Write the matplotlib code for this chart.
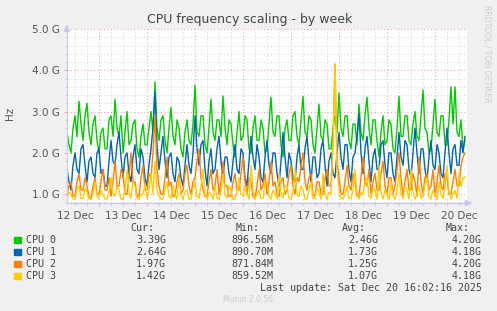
import matplotlib
matplotlib.use("Agg")
import matplotlib.pyplot as plt
import matplotlib.dates as mdates
from matplotlib.ticker import MultipleLocator, FuncFormatter
import pandas as pd

# --- data (GHz), one sample every hour ---
start = "2025-12-12 08:00"
step = "1h"

cpu0 = [2.5, 2.2, 2.0, 2.6, 2.9, 2.4, 3.25, 2.7, 2.3, 2.9, 3.2, 2.5, 2.2, 2.7, 2.9, 2.3, 2.0, 2.5, 2.6, 2.1,
        2.1, 2.8, 2.9, 2.4, 3.3, 2.6, 2.4, 2.9, 2.0, 2.5, 3.0, 2.2, 2.3, 2.7, 2.8, 2.1, 1.9, 2.4, 2.7, 2.2,
        2.2, 2.6, 3.0, 2.5, 3.72, 2.6, 2.3, 2.8, 2.9, 2.3, 2.0, 2.6, 3.1, 2.4, 2.2, 2.8, 2.6, 2.1, 1.9, 2.5,
        2.8, 2.3, 2.2, 2.7, 3.64, 2.5, 2.4, 2.9, 2.9, 2.2, 2.0, 2.6, 3.3, 2.5, 2.3, 2.8, 2.8, 2.4, 3.38, 2.6,
        2.2, 2.8, 2.7, 2.2, 1.9, 2.5, 3.0, 2.3, 2.4, 2.9, 2.8, 2.1, 2.0, 2.6, 2.9, 2.3, 2.3, 2.8, 2.6, 2.0,
        2.1, 2.7, 3.35, 2.5, 2.4, 2.9, 2.9, 2.2, 1.9, 2.6, 2.8, 2.3, 2.3, 2.9, 3.0, 2.4, 2.2, 2.8, 3.37, 2.5,
        2.4, 2.9, 2.8, 2.2, 2.0, 2.6, 3.18, 2.4, 2.3, 2.8, 2.7, 2.1, 2.1, 2.6, 2.9, 2.5, 3.45, 2.6, 2.4, 2.9,
        2.9, 2.3, 2.1, 2.7, 2.7, 2.2, 3.18, 2.5, 2.3, 2.9, 3.35, 2.6, 2.2, 2.8, 2.8, 2.3, 1.9, 2.5, 2.9, 2.2,
        2.3, 2.8, 2.7, 2.1, 2.0, 2.6, 3.37, 2.4, 2.4, 2.9, 2.9, 2.3, 2.2, 2.7, 3.0, 2.4, 2.3, 2.9, 3.52, 2.6,
        2.5, 2.0, 2.1, 2.7, 3.3, 2.5, 2.4, 2.9, 2.9, 2.2, 2.2, 2.8, 3.6, 2.7, 3.6, 2.5, 2.4, 2.8, 2.1, 2.3]

cpu1 = [1.6, 1.3, 1.1, 1.7, 2.0, 1.6, 1.5, 2.1, 2.2, 1.7, 1.3, 1.8, 1.9, 1.5, 1.4, 2.0, 2.1, 1.5, 1.6, 1.2,
        1.2, 1.8, 2.3, 1.8, 1.7, 2.2, 2.5, 1.9, 1.4, 1.9, 2.0, 1.5, 1.3, 1.9, 2.2, 1.6, 1.5, 2.1, 1.9, 1.4,
        1.2, 1.7, 2.1, 2.6, 3.48, 2.2, 1.6, 2.0, 2.4, 1.8, 1.4, 1.9, 2.0, 1.5, 1.3, 1.9, 1.8, 1.4, 1.2, 1.7,
        2.2, 1.7, 1.5, 2.0, 2.9, 2.1, 1.7, 2.2, 2.3, 1.6, 1.2, 1.8, 2.1, 1.5, 1.6, 2.1, 2.4, 1.8, 1.4, 1.9,
        1.9, 1.5, 1.3, 1.8, 2.2, 1.6, 1.5, 2.1, 2.0, 1.4, 1.2, 1.8, 2.4, 1.9, 1.6, 2.2, 1.9, 1.4, 1.3, 1.9,
        2.3, 1.7, 1.5, 2.0, 2.0, 1.5, 1.2, 1.8, 2.5, 1.9, 1.4, 2.0, 1.8, 1.4, 1.3, 1.9, 2.2, 1.6, 1.6, 2.1,
        2.4, 1.8, 1.3, 1.9, 1.9, 1.4, 1.5, 2.1, 2.3, 1.7, 1.2, 1.8, 2.0, 1.5, 1.4, 2.0, 2.5, 1.9, 1.6, 2.2,
        2.2, 1.6, 1.3, 1.9, 2.0, 2.4, 2.95, 2.0, 1.5, 2.1, 2.4, 1.8, 1.3, 1.9, 2.1, 1.6, 1.6, 2.2, 2.3, 1.7,
        1.4, 2.0, 2.0, 1.5, 1.3, 1.9, 2.5, 1.9, 1.7, 2.3, 2.2, 1.6, 1.4, 2.0, 2.6, 2.0, 1.5, 2.1, 2.1, 1.6,
        1.3, 1.9, 2.3, 1.7, 1.6, 2.2, 2.0, 1.5, 1.4, 2.0, 2.6, 2.0, 1.5, 2.1, 2.2, 1.7, 1.7, 2.3, 2.0, 2.4]

cpu2 = [1.0, 1.2, 1.3, 0.95, 0.95, 1.3, 1.5, 1.1, 1.1, 1.4, 1.2, 0.95, 0.9, 1.2, 1.4, 1.0, 1.0, 1.3, 1.6, 1.1,
        1.1, 1.4, 0.95, 1.3, 1.8, 1.2, 1.2, 1.6, 1.5, 1.0, 1.0, 1.4, 2.0, 1.3, 1.3, 0.95, 0.95, 1.4, 1.7, 1.1,
        1.1, 1.5, 1.4, 2.0, 2.9, 1.6, 1.2, 1.0, 1.0, 1.4, 1.9, 1.2, 1.3, 0.95, 0.95, 1.3, 1.5, 1.0, 1.1, 1.5,
        1.7, 1.2, 1.0, 1.3, 1.4, 1.8, 2.1, 1.4, 1.1, 0.95, 0.95, 1.3, 1.6, 1.1, 1.2, 1.6, 1.0, 1.3, 1.8, 1.2,
        1.2, 0.95, 0.95, 1.3, 1.5, 1.1, 1.1, 1.5, 1.9, 1.3, 1.0, 1.4, 1.3, 0.95, 0.9, 1.2, 1.6, 1.1, 1.2, 1.5,
        1.0, 1.3, 1.8, 1.2, 1.3, 1.0, 0.95, 1.3, 1.4, 1.0, 1.1, 1.5, 1.7, 1.2, 1.0, 1.4, 1.3, 1.7, 2.0, 1.3,
        1.1, 1.4, 1.5, 1.0, 0.95, 1.3, 1.3, 1.0, 1.0, 1.4, 1.6, 1.2, 1.2, 2.3, 4.15, 1.8, 1.4, 1.0, 1.0, 1.3,
        1.7, 1.2, 1.1, 1.5, 1.3, 0.95, 0.95, 1.4, 1.9, 1.3, 1.2, 1.6, 1.0, 1.3, 1.5, 1.1, 1.1, 1.5, 1.8, 1.2,
        1.0, 1.4, 1.4, 1.0, 1.2, 1.6, 2.0, 1.4, 0.95, 1.3, 1.6, 1.1, 1.1, 1.5, 1.3, 0.95, 1.9, 1.3, 1.0, 1.4,
        1.5, 1.1, 1.2, 1.6, 0.95, 1.3, 1.7, 1.2, 1.1, 1.5, 1.4, 1.0, 1.0, 1.3, 1.6, 1.2, 1.2, 1.7, 1.9, 2.0]

cpu3 = [0.9, 1.05, 1.0, 0.88, 0.88, 1.1, 1.2, 0.9, 0.9, 1.15, 1.05, 0.88, 0.88, 1.0, 1.3, 0.95, 0.9, 1.1, 1.0, 0.88,
        0.88, 1.05, 1.4, 1.0, 0.95, 1.2, 1.1, 0.88, 0.88, 1.1, 1.6, 1.05, 0.9, 1.3, 1.2, 0.9, 0.88, 1.0, 1.0, 1.25,
        0.9, 1.1, 1.5, 1.0, 1.8, 1.1, 0.95, 0.88, 0.88, 1.1, 1.3, 0.95, 0.9, 1.2, 1.0, 0.88, 1.4, 1.0, 0.88, 1.05,
        1.1, 0.88, 0.88, 1.15, 1.3, 0.95, 0.9, 1.2, 1.6, 1.0, 0.88, 1.05, 1.0, 0.88, 1.2, 0.9, 0.88, 1.1, 1.5, 1.0,
        0.9, 1.2, 1.1, 0.88, 0.88, 1.05, 1.4, 1.0, 0.95, 1.2, 1.0, 0.88, 1.7, 1.1, 0.88, 1.0, 1.1, 0.9, 0.9, 1.3,
        1.3, 0.95, 0.88, 1.1, 1.0, 0.88, 1.5, 1.05, 0.9, 1.2, 1.2, 0.9, 0.88, 1.05, 1.6, 1.0, 0.95, 1.2, 1.1, 0.88,
        0.88, 1.1, 1.3, 0.9, 0.9, 1.15, 1.05, 0.88, 1.5, 1.0, 0.88, 1.05, 1.0, 2.2, 4.15, 1.6, 1.1, 0.9, 0.88, 1.0,
        1.2, 0.9, 0.9, 1.1, 1.6, 1.0, 0.88, 1.05, 1.0, 1.3, 1.4, 0.95, 0.9, 1.15, 1.1, 0.88, 1.7, 1.05, 0.88, 1.1,
        1.0, 0.88, 1.3, 0.95, 0.88, 1.1, 1.5, 1.0, 0.9, 1.2, 1.1, 0.88, 1.6, 1.05, 0.88, 1.0, 1.2, 0.9, 0.95, 1.25,
        1.4, 0.95, 0.88, 1.1, 1.0, 0.88, 1.3, 1.0, 0.9, 1.2, 1.7, 1.05, 0.88, 1.0, 1.1, 0.9, 1.5, 1.2, 1.4, 1.42]

names = ["CPU 0", "CPU 1", "CPU 2", "CPU 3"]
colors = ["#00cc00", "#0066b3", "#ff8000", "#ffcc00"]
cur = ["3.39G", "2.64G", "1.97G", "1.42G"]
mins = ["896.56M", "890.70M", "871.84M", "859.52M"]
avgs = ["2.46G", "1.73G", "1.25G", "1.07G"]
maxs = ["4.20G", "4.18G", "4.20G", "4.18G"]
day_labels = ["12 Dec", "13 Dec", "14 Dec", "15 Dec", "16 Dec",
              "17 Dec", "18 Dec", "19 Dec", "20 Dec"]

times = pd.date_range(start, periods=len(cpu0), freq=step)

W, H = 497, 311
fig = plt.figure(figsize=(W / 100, H / 100), dpi=100, facecolor="#f0f0f0")
ax = fig.add_axes([67 / W, 1 - 203 / H, 400 / W, 174 / H], facecolor="white")

for series, c in zip([cpu0, cpu1, cpu2, cpu3], colors):
    ax.plot(times, series, color=c, lw=1.0)

ax.set_xlim(pd.Timestamp("2025-12-12 08:00"), pd.Timestamp("2025-12-20 16:00"))
ax.set_ylim(0.787, 5.0)

# grid: minor gray, major red, dotted
ax.xaxis.set_major_locator(mdates.DayLocator())
ax.xaxis.set_minor_locator(mdates.HourLocator(byhour=[6, 12, 18]))
ax.yaxis.set_major_locator(MultipleLocator(1.0))
ax.yaxis.set_minor_locator(MultipleLocator(0.2))
ax.grid(which="minor", color="#d8d8d8", ls=(0, (1, 2)), lw=0.8)
ax.grid(which="major", color="#e8a8a8", ls=(0, (1, 2)), lw=0.8)
ax.set_axisbelow(True)

ax.xaxis.set_major_formatter(FuncFormatter(lambda v, p: ""))
ax.yaxis.set_major_formatter(FuncFormatter(lambda v, p: "%.1f G" % v))
ax.tick_params(axis="y", which="major", labelsize=7.5, labelcolor="#555555",
               length=2, color="#e8a8a8", pad=3)
ax.tick_params(axis="y", which="minor", length=1.5, color="#cccccc")
ax.tick_params(axis="x", which="major", length=2, color="#e8a8a8", direction="out")
ax.tick_params(axis="x", which="minor", length=2, color="#cccccc", direction="out")

for s in ["top", "right"]:
    ax.spines[s].set_visible(False)
for s in ["left", "bottom"]:
    ax.spines[s].set_color("#c8c8ec")
    ax.spines[s].set_linewidth(0.8)

# axis arrows
ax.annotate("", xy=(1.02, 0), xytext=(0.99, 0), xycoords="axes fraction",
            arrowprops=dict(arrowstyle="-|>", color="#c8c8ec", lw=0.8), annotation_clip=False)
ax.annotate("", xy=(0, 1.04), xytext=(0, 1.0), xycoords="axes fraction",
            arrowprops=dict(arrowstyle="-|>", color="#c8c8ec", lw=0.8), annotation_clip=False)

# day labels centered at noon
for k, lab in enumerate(day_labels):
    t = pd.Timestamp("2025-12-12 12:00") + pd.Timedelta(days=k)
    ax.text(t, -0.045, lab, transform=ax.get_xaxis_transform(), ha="center", va="top",
            fontsize=7.5, color="#555555")

fig.text(250 / W, 1 - 19 / H, "CPU frequency scaling - by week", ha="center", va="center",
         fontsize=9, color="#444444")
fig.text(10 / W, 1 - 113 / H, "Hz", rotation=90, ha="center", va="center",
         fontsize=7.5, color="#555555")
fig.text(487 / W, 1 - 5 / H, "RRDTOOL / TOBI OETIKER", rotation=270, ha="center", va="top",
         fontsize=5.5, color="#cccccc")

# legend table
mono = dict(family="DejaVu Sans Mono", fontsize=7.2, color="#444444")
hy = 1 - 228 / H
fig.text(154 / W, hy, "Cur:", ha="right", va="center", **mono)
fig.text(260 / W, hy, "Min:", ha="right", va="center", **mono)
fig.text(366 / W, hy, "Avg:", ha="right", va="center", **mono)
fig.text(470 / W, hy, "Max:", ha="right", va="center", **mono)
for i, name in enumerate(names):
    y = 1 - (240 + 12 * i) / H
    fig.patches.append(plt.Rectangle((14 / W, y - 3.2 / H), 6.5 / W, 6.5 / H,
                                     transform=fig.transFigure, color=colors[i]))
    fig.text(26 / W, y, name, ha="left", va="center", **mono)
    fig.text(166 / W, y, cur[i], ha="right", va="center", **mono)
    fig.text(273 / W, y, mins[i], ha="right", va="center", **mono)
    fig.text(378 / W, y, avgs[i], ha="right", va="center", **mono)
    fig.text(482 / W, y, maxs[i], ha="right", va="center", **mono)
fig.text(482 / W, 1 - 288 / H, "Last update: Sat Dec 20 16:02:16 2025",
         ha="right", va="center", **mono)
fig.text(248 / W, 1 - 300 / H, "Munin 2.0.56", ha="center", va="center",
         fontsize=5.5, color="#cccccc")

fig.savefig("out.png", dpi=100, facecolor=fig.get_facecolor())
